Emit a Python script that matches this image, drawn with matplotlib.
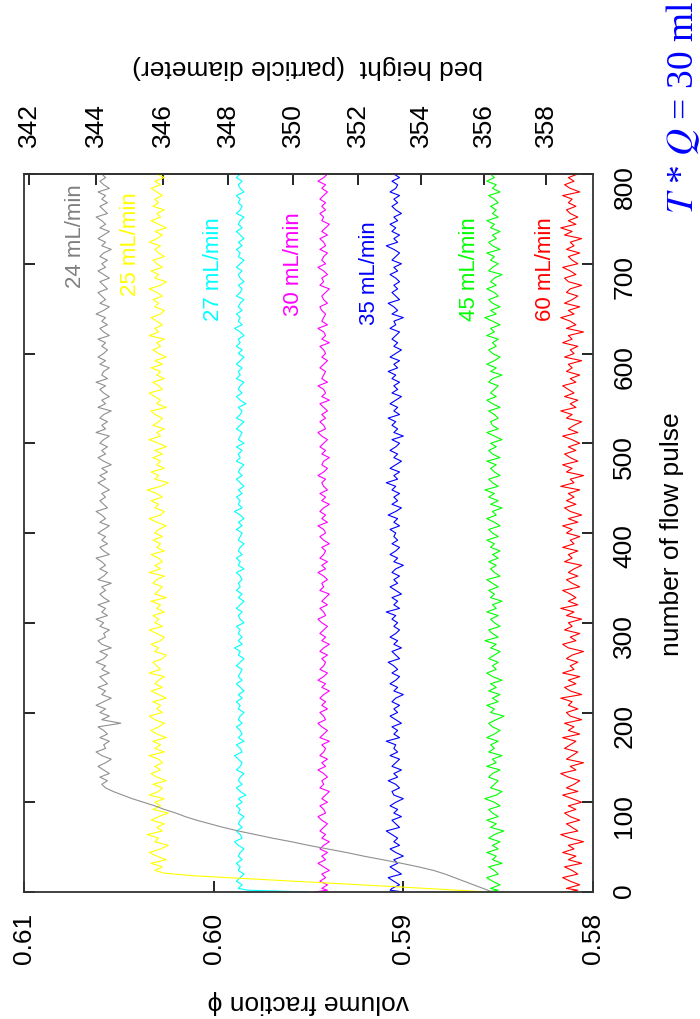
import matplotlib
matplotlib.use("Agg")
import matplotlib.pyplot as plt

plt.rcParams['font.family'] = ['Liberation Sans', 'DejaVu Sans']
plt.rcParams['mathtext.fontset'] = 'stix'

# pulse numbers of the steady samples (every 4th pulse)
grid = list(range(4, 801, 4))

# each run: start-up samples (pulse, phi) then steady samples, which sit
# on the last len(tail) entries of grid
gray_head_pulse = [0]
gray_head_phi = [.5853]
gray_tail = [
    .5858, .5863, .5868, .5873, .5878, .5884, .5892, .5901, .5911, .5921,
    .5930, .5940, .5950, .5959, .5969, .5978, .5987, .5995, .6002, .6009,
    .6015, .6020, .6026, .6031, .6037, .6043, .6048, .6053, .6057,
    .6059, .6056, .6060, .6055, .6058, .6061, .6057, .6054, .6059, .6062,
    .6057, .6058, .6055, .6060, .6056, .6058, .6061, .6049, .6059, .6055,
    .6060, .6057, .6062, .6058, .6054, .6059, .6057, .6061, .6056, .6058,
    .6060, .6055, .6059, .6057, .6062, .6058, .6056, .6060, .6054, .6059,
    .6061, .6057, .6058, .6055, .6060, .6058, .6062, .6056, .6059, .6057,
    .6061, .6055, .6058, .6060, .6057, .6059, .6054, .6061, .6058, .6056,
    .6060, .6057, .6059, .6062, .6055, .6058, .6060, .6056, .6059, .6057,
    .6061, .6058, .6055, .6060, .6057, .6059, .6062, .6056, .6058, .6060,
    .6057, .6059, .6055, .6058, .6061, .6057, .6060, .6056, .6059, .6054,
    .6058, .6061, .6057, .6059, .6056, .6060, .6058, .6055, .6062, .6057,
    .6059, .6056, .6060, .6058, .6054, .6061, .6057, .6059, .6055, .6058,
    .6060, .6057, .6062, .6056, .6059, .6058, .6055, .6060, .6057, .6061,
    .6058, .6056, .6059, .6057, .6061, .6055, .6058, .6060, .6056, .6059,
    .6057, .6062, .6058, .6055, .6060, .6057, .6059, .6061, .6056, .6058,
    .6060, .6055, .6058, .6061, .6057, .6059, .6056, .6060, .6058, .6054,
    .6059, .6057, .6061, .6058, .6055, .6060, .6057, .6059, .6062, .6056,
    .6058, .6060, .6056, .6059, .6057, .6061, .6055, .6058, .6060, .6057,
    .6059,
]

yellow_head_pulse = [0, 6, 12, 18, 21]
yellow_head_phi = [.5855, .5905, .5958, .6010, .6026]
yellow_tail = [
    .6031, .6027, .6033, .6025, .6030, .6034, .6028, .6024, .6031, .6029,
    .6035, .6027, .6030, .6026, .6033, .6029, .6024, .6032, .6028, .6031,
    .6026, .6034, .6029, .6027, .6032, .6025, .6030, .6033, .6028, .6031,
    .6027, .6029, .6034, .6026, .6031, .6028, .6032, .6025, .6030, .6033,
    .6029, .6026, .6031, .6034, .6027, .6030, .6028, .6032, .6025, .6029,
    .6033, .6027, .6031, .6029, .6026, .6034, .6028, .6030, .6032, .6027,
    .6025, .6031, .6029, .6033, .6028, .6026, .6030, .6034, .6027, .6031,
    .6029, .6032, .6026, .6030, .6028, .6033, .6025, .6031, .6029, .6027,
    .6032, .6030, .6026, .6034, .6028, .6031, .6027, .6029, .6033, .6026,
    .6030, .6028, .6032, .6027, .6031, .6029, .6025, .6030, .6034, .6028,
    .6026, .6031, .6029, .6033, .6027, .6030, .6035, .6028, .6024, .6031,
    .6029, .6033, .6026, .6030, .6028, .6032, .6027, .6031, .6025, .6029,
    .6034, .6028, .6030, .6026, .6032, .6029, .6027, .6031, .6033, .6025,
    .6030, .6028, .6031, .6034, .6027, .6029, .6032, .6026, .6030, .6028,
    .6033, .6027, .6031, .6025, .6029, .6032, .6028, .6030, .6026, .6034,
    .6029, .6031, .6027, .6030, .6033, .6028, .6026, .6031, .6029, .6032,
    .6027, .6030, .6034, .6028, .6025, .6031, .6029, .6033, .6027, .6030,
    .6032, .6026, .6029, .6031, .6028, .6034, .6030, .6027, .6031, .6025,
    .6029, .6033, .6028, .6030, .6026, .6032, .6029, .6031, .6027, .6030,
    .6033, .6028, .6031, .6026, .6030,
]

cyan_head_pulse = [0, 2]
cyan_head_phi = [.5950, .5982]
cyan_tail = [
    .5987, .5985, .5988, .5986, .5984, .5987, .5986, .5988, .5985, .5987,
    .5986, .5984, .5987, .5989, .5985, .5986, .5988, .5985, .5987, .5986,
    .5984, .5987, .5986, .5988, .5985, .5987, .5983, .5986, .5988, .5985,
    .5987, .5986, .5984, .5988, .5986, .5985, .5987, .5989, .5985, .5986,
    .5988, .5984, .5987, .5985, .5986, .5988, .5985, .5987, .5986, .5984,
    .5987, .5986, .5988, .5985, .5987, .5984, .5986, .5988, .5985, .5987,
    .5986, .5985, .5988, .5986, .5984, .5987, .5986, .5989, .5985, .5987,
    .5985, .5987, .5986, .5988, .5984, .5986, .5987, .5985, .5988, .5986,
    .5984, .5987, .5985, .5988, .5986, .5987, .5985, .5986, .5988, .5984,
    .5987, .5986, .5988, .5985, .5987, .5986, .5984, .5987, .5986, .5985,
    .5988, .5985, .5987, .5984, .5986, .5989, .5985, .5987, .5986, .5988,
    .5985, .5987, .5984, .5986, .5988, .5985, .5987, .5986, .5984, .5988,
    .5986, .5987, .5985, .5988, .5984, .5987, .5986, .5985, .5988, .5986,
    .5984, .5988, .5986, .5985, .5987, .5983, .5986, .5988, .5985, .5987,
    .5986, .5984, .5988, .5986, .5987, .5985, .5988, .5986, .5984, .5987,
    .5985, .5988, .5986, .5987, .5984, .5986, .5989, .5985, .5987, .5986,
    .5988, .5985, .5987, .5986, .5984, .5988, .5986, .5985, .5987, .5984,
    .5986, .5987, .5985, .5988, .5986, .5984, .5987, .5986, .5988, .5985,
    .5987, .5984, .5986, .5988, .5985, .5987, .5986, .5984, .5988, .5986,
    .5985, .5987, .5986, .5988, .5984, .5986, .5987, .5985, .5988, .5986,
]

magenta_head_pulse = [0, 2]
magenta_head_phi = [.5947, .5940]
magenta_tail = [
    .5943, .5940, .5944, .5941, .5943, .5939, .5942, .5945, .5941, .5943,
    .5940, .5944, .5942, .5939, .5943, .5941, .5944, .5942, .5940, .5943,
    .5945, .5941, .5942, .5944, .5940, .5943, .5941, .5939, .5944, .5942,
    .5943, .5940, .5942, .5945, .5941, .5943, .5940, .5944, .5942, .5941,
    .5943, .5939, .5944, .5942, .5940, .5943, .5945, .5941, .5942, .5944,
    .5940, .5943, .5941, .5944, .5942, .5939, .5943, .5941, .5945, .5942,
    .5940, .5944, .5942, .5941, .5943, .5940, .5944, .5942, .5939, .5943,
    .5941, .5944, .5942, .5940, .5943, .5945, .5941, .5942, .5944, .5940,
    .5943, .5941, .5939, .5944, .5942, .5943, .5940, .5942, .5945, .5941,
    .5943, .5940, .5944, .5942, .5941, .5943, .5939, .5942, .5944, .5941,
    .5942, .5945, .5940, .5943, .5941, .5944, .5942, .5939, .5943, .5941,
    .5944, .5940, .5942, .5943, .5941, .5945, .5942, .5940, .5943, .5942,
    .5939, .5943, .5941, .5944, .5942, .5940, .5943, .5945, .5941, .5942,
    .5944, .5941, .5943, .5940, .5942, .5944, .5939, .5943, .5941, .5942,
    .5945, .5940, .5943, .5942, .5941, .5944, .5942, .5940, .5943, .5941,
    .5942, .5944, .5939, .5943, .5941, .5942, .5945, .5940, .5943, .5942,
    .5941, .5943, .5944, .5940, .5942, .5943, .5941, .5939, .5944, .5942,
    .5943, .5940, .5942, .5945, .5941, .5943, .5942, .5940, .5944, .5941,
    .5942, .5944, .5940, .5943, .5941, .5939, .5943, .5942, .5944, .5941,
    .5943, .5941, .5944, .5942, .5940, .5943, .5941, .5945, .5942, .5940,
]

blue_head_pulse = [0, 2]
blue_head_phi = [.5900, .5907]
blue_tail = [
    .5906, .5902, .5905, .5908, .5901, .5904, .5907, .5903, .5905, .5900,
    .5904, .5907, .5902, .5905, .5903, .5906, .5909, .5902, .5904, .5906,
    .5901, .5905, .5903, .5907, .5904, .5900, .5905, .5906, .5902, .5904,
    .5908, .5903, .5905, .5901, .5906, .5904, .5902, .5907, .5903, .5905,
    .5904, .5909, .5902, .5905, .5903, .5906, .5901, .5904, .5907, .5903,
    .5905, .5902, .5906, .5904, .5900, .5905, .5903, .5907, .5904, .5902,
    .5906, .5903, .5905, .5908, .5902, .5904, .5906, .5901, .5905, .5903,
    .5907, .5904, .5902, .5905, .5903, .5906, .5904, .5909, .5902, .5905,
    .5903, .5906, .5901, .5904, .5907, .5903, .5905, .5902, .5906, .5904,
    .5900, .5905, .5903, .5907, .5904, .5902, .5906, .5903, .5905, .5904,
    .5907, .5902, .5905, .5903, .5908, .5904, .5901, .5906, .5903, .5905,
    .5902, .5906, .5904, .5909, .5903, .5905, .5902, .5907, .5904, .5901,
    .5905, .5903, .5907, .5904, .5902, .5906, .5900, .5905, .5903, .5906,
    .5904, .5908, .5902, .5905, .5903, .5907, .5904, .5901, .5906, .5903,
    .5905, .5902, .5906, .5904, .5908, .5903, .5905, .5902, .5907, .5904,
    .5901, .5905, .5903, .5906, .5904, .5902, .5907, .5904, .5905, .5900,
    .5906, .5903, .5905, .5908, .5902, .5904, .5906, .5903, .5905, .5902,
    .5904, .5907, .5903, .5905, .5901, .5906, .5904, .5902, .5905, .5909,
    .5903, .5905, .5902, .5906, .5904, .5907, .5903, .5905, .5901, .5904,
    .5906, .5903, .5905, .5902, .5907, .5904, .5903, .5906, .5902, .5905,
]

green_head_pulse = [0, 2]
green_head_phi = [.5856, .5850]
green_tail = [
    .5854, .5849, .5853, .5856, .5850, .5852, .5855, .5848, .5853, .5851,
    .5856, .5850, .5853, .5849, .5855, .5852, .5847, .5854, .5851, .5856,
    .5850, .5853, .5855, .5849, .5852, .5857, .5851, .5848, .5854, .5852,
    .5850, .5855, .5853, .5849, .5856, .5851, .5853, .5848, .5855, .5852,
    .5854, .5850, .5856, .5852, .5849, .5853, .5855, .5851, .5847, .5854,
    .5852, .5856, .5850, .5853, .5849, .5855, .5851, .5854, .5848, .5853,
    .5856, .5851, .5853, .5850, .5855, .5852, .5849, .5854, .5851, .5857,
    .5850, .5853, .5855, .5849, .5852, .5854, .5850, .5856, .5851, .5853,
    .5848, .5854, .5852, .5855, .5850, .5853, .5856, .5849, .5852, .5854,
    .5851, .5855, .5850, .5853, .5849, .5854, .5852, .5856, .5850, .5853,
    .5855, .5849, .5852, .5856, .5851, .5853, .5848, .5854, .5850, .5855,
    .5852, .5857, .5850, .5853, .5855, .5849, .5852, .5854, .5851, .5856,
    .5849, .5853, .5855, .5851, .5854, .5848, .5852, .5856, .5850, .5853,
    .5854, .5850, .5852, .5855, .5849, .5853, .5856, .5851, .5854, .5852,
    .5850, .5855, .5853, .5848, .5854, .5851, .5856, .5852, .5849, .5853,
    .5855, .5851, .5853, .5850, .5856, .5852, .5854, .5849, .5853, .5857,
    .5851, .5854, .5849, .5853, .5855, .5850, .5852, .5856, .5851, .5854,
    .5852, .5848, .5855, .5853, .5850, .5854, .5852, .5856, .5849, .5853,
    .5855, .5851, .5853, .5849, .5854, .5852, .5856, .5850, .5853, .5851,
    .5854, .5850, .5852, .5855, .5849, .5853, .5851, .5856, .5852, .5854,
]

red_head_pulse = [0, 2]
red_head_phi = [.5813, .5808]
red_tail = [
    .5814, .5807, .5812, .5816, .5808, .5811, .5815, .5806, .5813, .5809,
    .5816, .5810, .5813, .5805, .5812, .5817, .5808, .5811, .5814, .5807,
    .5812, .5815, .5809, .5813, .5806, .5811, .5816, .5808, .5814, .5810,
    .5807, .5813, .5817, .5809, .5812, .5805, .5814, .5811, .5808, .5815,
    .5812, .5809, .5816, .5807, .5813, .5810, .5815, .5806, .5812, .5814,
    .5808, .5813, .5811, .5817, .5806, .5812, .5815, .5809, .5813, .5807,
    .5816, .5810, .5812, .5808, .5814, .5811, .5805, .5813, .5816, .5809,
    .5812, .5807, .5815, .5811, .5813, .5806, .5814, .5810, .5817, .5808,
    .5813, .5809, .5812, .5816, .5807, .5811, .5814, .5808, .5813, .5810,
    .5806, .5815, .5811, .5813, .5808, .5816, .5810, .5812, .5807, .5814,
    .5811, .5816, .5808, .5813, .5806, .5812, .5815, .5809, .5814, .5810,
    .5813, .5807, .5817, .5810, .5812, .5805, .5814, .5811, .5816, .5808,
    .5812, .5815, .5809, .5813, .5807, .5811, .5816, .5808, .5813, .5810,
    .5806, .5814, .5811, .5817, .5809, .5812, .5808, .5815, .5810, .5813,
    .5816, .5809, .5812, .5807, .5814, .5811, .5813, .5806, .5815, .5810,
    .5812, .5808, .5816, .5811, .5813, .5805, .5814, .5809, .5812, .5817,
    .5810, .5813, .5807, .5815, .5811, .5808, .5814, .5812, .5806, .5813,
    .5815, .5809, .5812, .5816, .5808, .5811, .5813, .5807, .5814, .5810,
    .5812, .5806, .5815, .5811, .5817, .5809, .5813, .5808, .5812, .5814,
    .5809, .5813, .5811, .5816, .5807, .5812, .5815, .5810, .5813, .5808,
]

# drawn in this order so the slower runs lie on top
runs = [
    ("60 mL/min", "#ff0000", red_head_pulse, red_head_phi, red_tail),
    ("45 mL/min", "#00ff00", green_head_pulse, green_head_phi, green_tail),
    ("35 mL/min", "#0000ff", blue_head_pulse, blue_head_phi, blue_tail),
    ("30 mL/min", "#ff00ff", magenta_head_pulse, magenta_head_phi, magenta_tail),
    ("27 mL/min", "#00ffff", cyan_head_pulse, cyan_head_phi, cyan_tail),
    ("25 mL/min", "#ffff00", yellow_head_pulse, yellow_head_phi, yellow_tail),
    ("24 mL/min", "#909090", gray_head_pulse, gray_head_phi, gray_tail),
]

# where each run's name is written: volume fraction, pulse at the text end
label_phi = {"24 mL/min": .6073, "25 mL/min": .6044, "27 mL/min": .6000,
             "30 mL/min": .5958, "35 mL/min": .5918, "45 mL/min": .5865,
             "60 mL/min": .5825}
label_top = {"24 mL/min": 790, "25 mL/min": 781, "27 mL/min": 753,
             "30 mL/min": 758, "35 mL/min": 749, "45 mL/min": 753,
             "60 mL/min": 753}

phi_ticks = [0.61, 0.60, 0.59, 0.58]
pulse_ticks = [0, 100, 200, 300, 400, 500, 600, 700, 800]
height_ticks = [342, 344, 346, 348, 350, 352, 354, 356, 358]
bed_const = 208.53   # bed height * volume fraction

fig = plt.figure(figsize=(7, 10.2), dpi=100)
ax = fig.add_axes([24 / 700, 127 / 1020, 569 / 700, 718 / 1020])

for name, color, hp, hv, tail in runs:
    xs = list(hv) + list(tail)
    ys = list(hp) + grid[-len(tail):]
    ax.plot(xs, ys, color=color, lw=0.8)
    lc = "#808080" if color == "#909090" else color
    ax.text(label_phi[name], label_top[name], name, color=lc, fontsize=16,
            rotation=90, ha="center", va="top")

ax.set_xlim(0.61, 0.58)
ax.set_ylim(0, 800)
ax.set_xticks(phi_ticks)
ax.set_xticklabels(["%.2f" % t for t in phi_ticks])
ax.set_yticks(pulse_ticks)
ax.tick_params(axis="x", direction="in", length=8, width=1.2, top=False,
               labelsize=19, labelrotation=90, pad=14)
ax.tick_params(axis="y", direction="in", length=8, width=1.2, left=True,
               right=True, labelleft=False, labelright=True, labelsize=19,
               labelrotation=90, pad=14)
for s in ax.spines.values():
    s.set_color("#333333")
    s.set_linewidth(1.3)

sec = ax.secondary_xaxis("top", functions=(lambda p: bed_const / p,
                                           lambda h: bed_const / h))
sec.set_xticks(height_ticks)
sec.tick_params(direction="in", length=8, width=1.2, labelsize=19,
                labelrotation=90, pad=20)
sec.spines["top"].set_color("#333333")
sec.spines["top"].set_linewidth(1.3)

fig.text(308 / 700, 1 - 1002 / 1020, "volume fraction ϕ", fontsize=19,
         rotation=180, ha="center", va="center")
fig.text(672 / 700, 1 - 534 / 1020, "number of flow pulse", fontsize=19,
         rotation=90, ha="center", va="center")
fig.text(308 / 700, 1 - 67 / 1020, "bed height  (particle diameter)",
         fontsize=19, rotation=180, ha="center", va="center")
fig.text(683 / 700, 1 - 108 / 1020, r"$T$ * $Q$ = 30 ml", color="#0000ff",
         fontsize=27, family="Liberation Serif", rotation=90,
         ha="center", va="center")

fig.savefig("out.png", dpi=100)
